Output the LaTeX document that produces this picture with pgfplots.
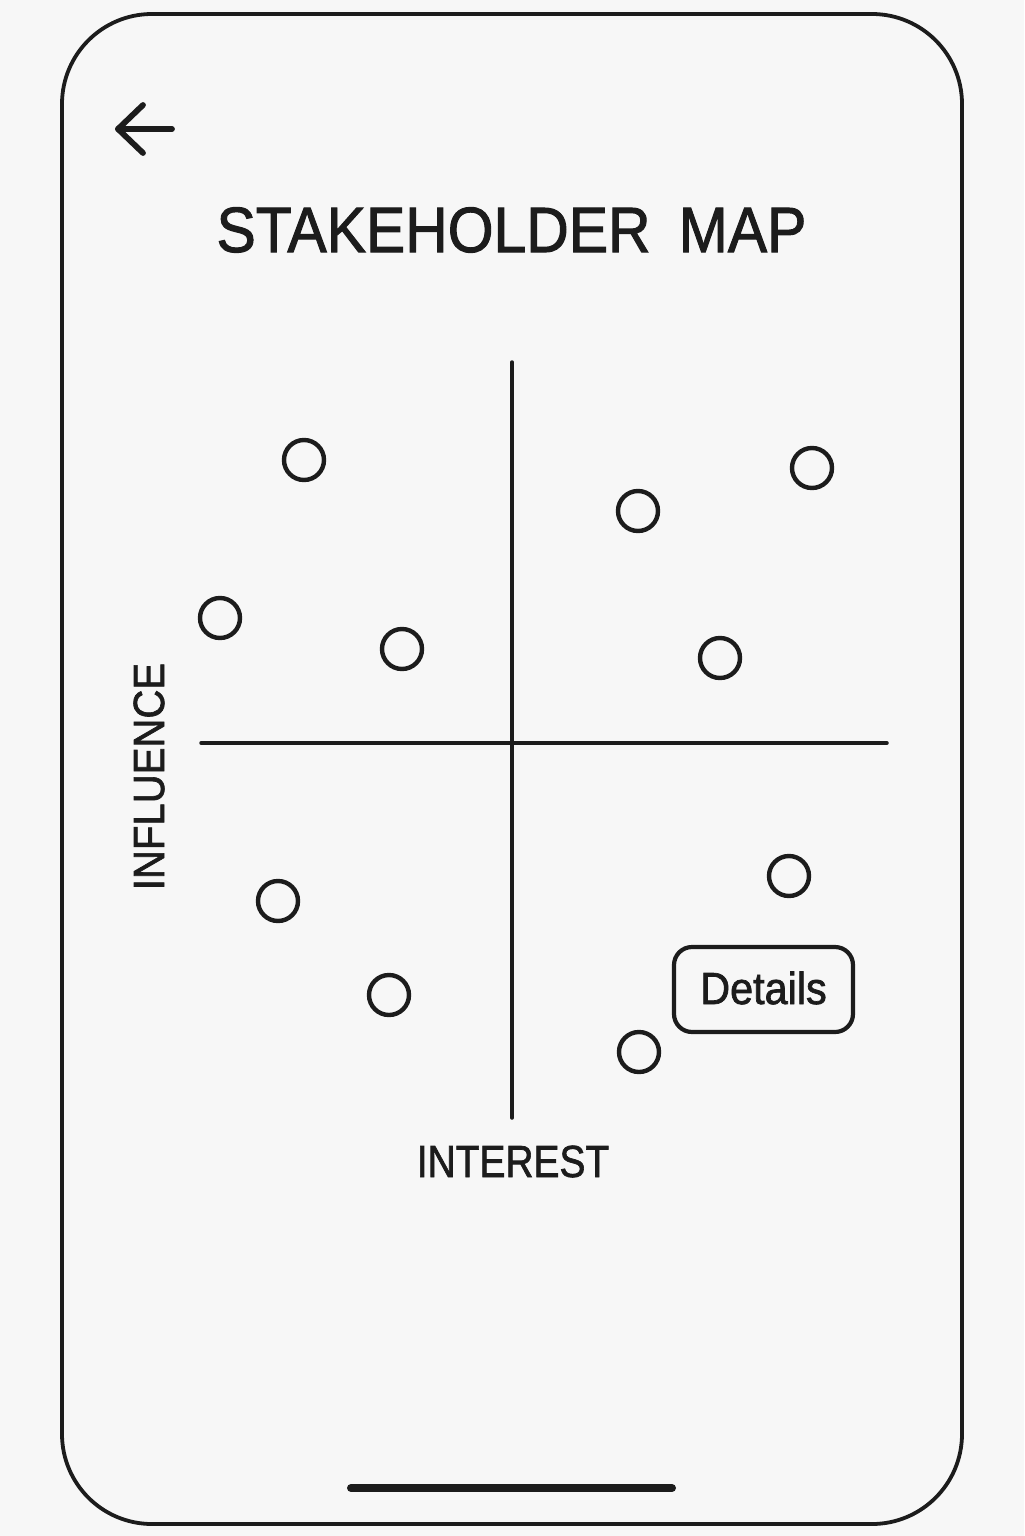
\documentclass[border=0pt]{standalone}
\usepackage{pgfplots}
\pgfplotsset{compat=1.18}
\usepackage{fontspec}
\setmainfont{Liberation Sans}
\newfontfamily\medfont{Liberation Sans}[FakeBold=1.6]
\definecolor{bg}{RGB}{247,247,247}
\definecolor{ink}{RGB}{28,28,28}
\begin{document}
\begin{tikzpicture}
\begin{axis}[
  scale only axis, width=512pt, height=768pt,
  xmin=0, xmax=1024, ymin=0, ymax=1536, y dir=reverse,
  hide axis, clip=false]
% background and phone frame
\fill[bg] (axis cs:0,0) rectangle (axis cs:1024,1536);
\draw[ink, line width=1.9pt, rounded corners=45pt] (axis cs:62,14) rectangle (axis cs:962,1524);
% back arrow
\draw[ink, line width=2.9pt, line cap=round, line join=round]
  (axis cs:143,105) -- (axis cs:118,129) -- (axis cs:143,153);
\draw[ink, line width=2.9pt, line cap=round] (axis cs:118,129) -- (axis cs:172,129);
% title
\node[ink, anchor=base, inner sep=0pt, xscale=0.92, font=\medfont\fontsize{32}{38}\selectfont]
  at (axis cs:511.5,252) {STAKEHOLDER\hskip0.48em MAP};
% quadrant lines
\addplot[ink, line width=1.75pt, line cap=round] coordinates {(512,362) (512,1118)};
\addplot[ink, line width=1.75pt, line cap=round] coordinates {(201,743) (887,743)};
% stakeholders
\addplot[only marks, mark=o, mark size=10pt, mark options={draw=ink, line width=2.2pt}]
  coordinates {
  (304,460) (220,618) (402,649) (638,511) (812,468) (720,658)
  (278,901) (389,995) (789,876) (639,1052)};
% axis labels
\node[ink, anchor=base, inner sep=0pt, rotate=90, xscale=0.92, font=\medfont\fontsize{21.8}{26}\selectfont]
  at (axis cs:164,776.5) {INFLUENCE};
\node[ink, anchor=base, inner sep=0pt, xscale=0.865, font=\medfont\fontsize{22.5}{27}\selectfont]
  at (axis cs:513,1177) {INTEREST};
% details button
\draw[ink, line width=2.1pt, rounded corners=9pt] (axis cs:674,947) rectangle (axis cs:853,1032);
\node[ink, anchor=base, inner sep=0pt, xscale=0.92, font=\medfont\fontsize{22.5}{27}\selectfont]
  at (axis cs:763.5,1004) {Details};
% home indicator
\draw[ink, line width=4pt, line cap=round] (axis cs:351,1488) -- (axis cs:672,1488);
\end{axis}
\end{tikzpicture}
\end{document}
